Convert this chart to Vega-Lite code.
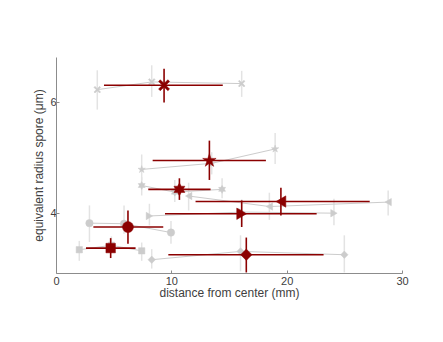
{
  "$schema": "https://vega.github.io/schema/vega-lite/v6.json",
  "autosize": {"type": "none"},
  "width": 346,
  "height": 216,
  "padding": {"left": 56, "top": 57, "right": 41, "bottom": 69},
  "background": "white",
  "config": {
    "view": {"stroke": null},
    "font": "Liberation Sans",
    "axis": {
      "domainColor": "#8c8c8c",
      "tickColor": "#8c8c8c",
      "labelColor": "#404040",
      "titleColor": "#404040",
      "labelFont": "Liberation Sans",
      "titleFont": "Liberation Sans",
      "labelFontSize": 11,
      "titleFontSize": 12,
      "titleFontWeight": "normal",
      "grid": false,
      "tickSize": -3,
      "labelFlush": false,
      "labelOverlap": false
    }
  },
  "data": {
    "values": [
      {"g": "x", "k": "rep", "x": 3.58, "y": 6.23, "ylo": 5.87, "yhi": 6.58},
      {"g": "x", "k": "rep", "x": 8.3, "y": 6.37, "ylo": 6.1, "yhi": 6.67},
      {"g": "x", "k": "rep", "x": 16.1, "y": 6.34, "ylo": 6.1, "yhi": 6.57},
      {"g": "x", "k": "mean", "x": 9.37, "y": 6.31, "ylo": 6.0, "yhi": 6.61, "xlo": 4.16, "xhi": 14.46},
      {"g": "star", "k": "rep", "x": 7.43, "y": 4.79, "ylo": 4.59, "yhi": 5.06},
      {"g": "star", "k": "rep", "x": 13.5, "y": 4.9, "ylo": 4.7, "yhi": 5.1},
      {"g": "star", "k": "rep", "x": 19.0, "y": 5.16, "ylo": 4.89, "yhi": 5.45},
      {"g": "star", "k": "mean", "x": 13.3, "y": 4.95, "ylo": 4.6, "yhi": 5.31, "xlo": 8.38, "xhi": 18.2},
      {"g": "hex", "k": "rep", "x": 7.43, "y": 4.5, "ylo": 4.32, "yhi": 4.65},
      {"g": "hex", "k": "rep", "x": 10.3, "y": 4.38, "ylo": 4.2, "yhi": 4.6},
      {"g": "hex", "k": "rep", "x": 14.4, "y": 4.43, "ylo": 4.27, "yhi": 4.63},
      {"g": "hex", "k": "mean", "x": 10.7, "y": 4.43, "ylo": 4.24, "yhi": 4.63, "xlo": 8.0, "xhi": 13.4},
      {"g": "tl", "k": "rep", "x": 11.5, "y": 4.31, "ylo": 4.05, "yhi": 4.55},
      {"g": "tl", "k": "rep", "x": 18.5, "y": 4.12, "ylo": 3.88, "yhi": 4.37},
      {"g": "tl", "k": "rep", "x": 28.8, "y": 4.2, "ylo": 3.96, "yhi": 4.41},
      {"g": "tl", "k": "mean", "x": 19.5, "y": 4.21, "ylo": 3.96, "yhi": 4.46, "xlo": 12.1, "xhi": 27.2},
      {"g": "tr", "k": "rep", "x": 8.1, "y": 3.95, "ylo": 3.78, "yhi": 4.17},
      {"g": "tr", "k": "rep", "x": 16.1, "y": 4.02, "ylo": 3.8, "yhi": 4.25},
      {"g": "tr", "k": "rep", "x": 24.1, "y": 4.0, "ylo": 3.78, "yhi": 4.26},
      {"g": "tr", "k": "mean", "x": 16.1, "y": 3.99, "ylo": 3.75, "yhi": 4.23, "xlo": 9.45, "xhi": 22.6},
      {"g": "circle", "k": "rep", "x": 2.9, "y": 3.82, "ylo": 3.48, "yhi": 4.14},
      {"g": "circle", "k": "rep", "x": 5.9, "y": 3.81, "ylo": 3.63, "yhi": 4.14},
      {"g": "circle", "k": "rep", "x": 9.97, "y": 3.65, "ylo": 3.45, "yhi": 3.86},
      {"g": "circle", "k": "mean", "x": 6.24, "y": 3.75, "ylo": 3.45, "yhi": 4.05, "xlo": 3.24, "xhi": 9.3},
      {"g": "square", "k": "rep", "x": 2.02, "y": 3.34, "ylo": 3.14, "yhi": 3.5},
      {"g": "square", "k": "rep", "x": 4.8, "y": 3.42, "ylo": 3.28, "yhi": 3.58},
      {"g": "square", "k": "rep", "x": 7.43, "y": 3.32, "ylo": 3.14, "yhi": 3.47},
      {"g": "square", "k": "mean", "x": 4.74, "y": 3.37, "ylo": 3.19, "yhi": 3.55, "xlo": 2.6, "xhi": 6.9},
      {"g": "diamond", "k": "rep", "x": 8.3, "y": 3.16, "ylo": 3.0, "yhi": 3.35},
      {"g": "diamond", "k": "rep", "x": 16.0, "y": 3.31, "ylo": 2.95, "yhi": 3.6},
      {"g": "diamond", "k": "rep", "x": 25.0, "y": 3.25, "ylo": 2.93, "yhi": 3.6},
      {"g": "diamond", "k": "mean", "x": 16.5, "y": 3.25, "ylo": 2.93, "yhi": 3.56, "xlo": 9.74, "xhi": 23.2}
    ]
  },
  "encoding": {
    "x": {"field": "x", "type": "quantitative", "scale": {"domain": [0, 30], "nice": false, "zero": false},
      "axis": {"values": [0, 10, 20, 30], "title": "distance from center (mm)", "titlePadding": 1, "labelPadding": 5}},
    "y": {"field": "y", "type": "quantitative", "scale": {"domain": [2.92, 6.82], "nice": false, "zero": false},
      "axis": {"values": [4, 6], "title": "equivalent radius spore (μm)", "titlePadding": 4, "labelPadding": 3}}
  },
  "layer": [
    {
      "transform": [{"filter": "datum.k === 'rep'"}],
      "mark": {"type": "rule", "color": "#e3e3e3", "strokeWidth": 1.5},
      "encoding": {"y": {"field": "ylo", "type": "quantitative"}, "y2": {"field": "yhi"}}
    },
    {
      "transform": [{"filter": "datum.k === 'rep'"}],
      "mark": {"type": "line", "color": "#cccccc", "strokeWidth": 1},
      "encoding": {"detail": {"field": "g"}, "order": {"field": "x", "type": "quantitative"}}
    },
    {
      "transform": [{"filter": "datum.k === 'rep'"}],
      "mark": {"type": "point", "filled": true, "opacity": 1, "color": "#cccccc", "stroke": "#cccccc", "strokeWidth": 0.5},
      "encoding": {
        "shape": {"field": "g", "type": "nominal", "legend": null,
          "scale": {"domain": ["x", "star", "hex", "tl", "tr", "circle", "square", "diamond"],
            "range": [
              "M-0.8,-0.55L-0.55,-0.8L0,-0.25L0.55,-0.8L0.8,-0.55L0.25,0L0.8,0.55L0.55,0.8L0,0.25L-0.55,0.8L-0.8,0.55L-0.25,0Z",
              "M0,-1L0.2245,-0.309L0.951,-0.309L0.363,0.118L0.588,0.809L0,0.382L-0.588,0.809L-0.363,0.118L-0.951,-0.309L-0.2245,-0.309Z",
              "M0,-1L0.2887,-0.5L0.866,-0.5L0.577,0L0.866,0.5L0.2887,0.5L0,1L-0.2887,0.5L-0.866,0.5L-0.577,0L-0.866,-0.5L-0.2887,-0.5Z",
              "triangle-left", "triangle-right", "circle", "square", "diamond"]}},
        "size": {"field": "g", "type": "nominal", "legend": null,
          "scale": {"type": "ordinal", "domain": ["x", "star", "hex", "tl", "tr", "circle", "square", "diamond"],
            "range": [70, 60, 64, 55, 55, 55, 40, 55]}}
      }
    },
    {
      "transform": [{"filter": "datum.k === 'mean'"}],
      "mark": {"type": "rule", "color": "#8b0000", "strokeWidth": 1.6},
      "encoding": {"x": {"field": "xlo", "type": "quantitative"}, "x2": {"field": "xhi"}}
    },
    {
      "transform": [{"filter": "datum.k === 'mean'"}],
      "mark": {"type": "rule", "color": "#8b0000", "strokeWidth": 1.6},
      "encoding": {"y": {"field": "ylo", "type": "quantitative"}, "y2": {"field": "yhi"}}
    },
    {
      "transform": [{"filter": "datum.k === 'mean'"}],
      "mark": {"type": "point", "filled": true, "opacity": 1, "color": "#8b0000", "stroke": "#8b0000", "strokeWidth": 0.5},
      "encoding": {
        "shape": {"field": "g", "type": "nominal", "legend": null},
        "size": {"field": "g", "type": "nominal", "legend": null,
          "scale": {"type": "ordinal", "domain": ["x", "star", "hex", "tl", "tr", "circle", "square", "diamond"],
            "range": [190, 200, 160, 130, 130, 120, 90, 130]}}
      }
    }
  ],
  "resolve": {"scale": {"size": "independent"}}
}
